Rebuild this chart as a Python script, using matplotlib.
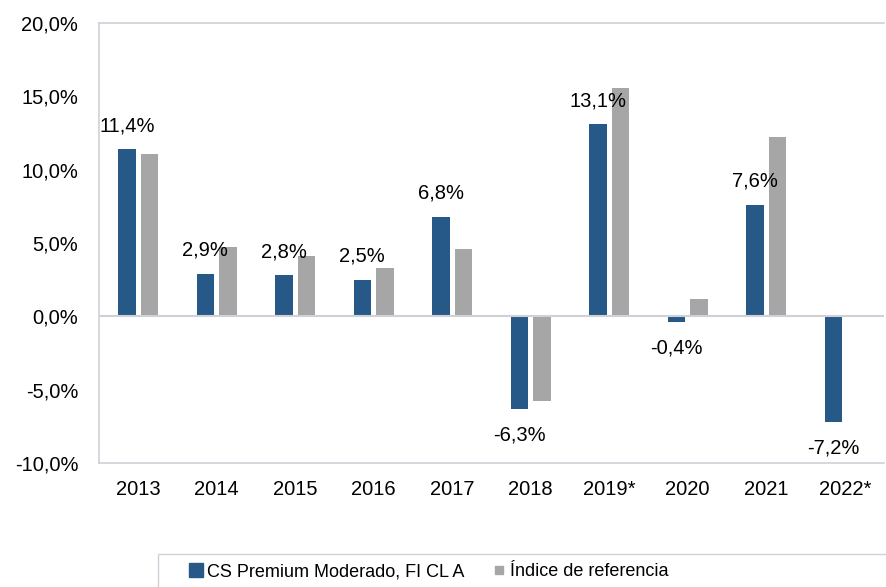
import numpy as np
import matplotlib.pyplot as plt
from matplotlib.lines import Line2D
from matplotlib.patches import Rectangle

plt.rcParams['font.family'] = ['Liberation Sans', 'DejaVu Sans']

years = ["2013", "2014", "2015", "2016", "2017", "2018", "2019*", "2020", "2021", "2022*"]
fund = [11.4, 2.9, 2.8, 2.5, 6.8, -6.3, 13.1, -0.4, 7.6, -7.2]
index_ref = [11.1, 4.7, 4.1, 3.3, 4.6, -5.8, 15.6, 1.2, 12.2, np.nan]

blue = "#265987"
grey = "#a6a6a6"
spine_col = "#d0d0d8"
fs = 14.5

W, H = 886, 587
fig = plt.figure(figsize=(W / 100, H / 100), dpi=100)
ax = fig.add_axes([99 / W, 1 - 463 / H, 785 / W, 440 / H])

x = np.arange(len(years))
w = 0.22
ax.bar(x - 0.145, fund, w, color=blue)
ax.bar(x + 0.145, index_ref, w, color=grey)

# data labels only for the fund
for xi, v in zip(x, fund):
    lbl = f"{v:.1f}%".replace(".", ",")
    if v >= 0:
        ax.annotate(lbl, (xi - 0.145, v), xytext=(0, 10), textcoords="offset points",
                    ha="center", va="bottom", fontsize=fs)
    else:
        ax.annotate(lbl, (xi - 0.145, v), xytext=(0, -12), textcoords="offset points",
                    ha="center", va="top", fontsize=fs)

ax.set_xlim(-0.5, len(years) - 0.5)
ax.set_ylim(-10, 20)
yt = np.arange(-10, 21, 5)
ax.set_yticks(yt)
ax.set_yticklabels([f"{t:.1f}%".replace(".", ",") for t in yt], fontsize=fs)
ax.set_xticks(x)
ax.set_xticklabels(years, fontsize=fs)
ax.tick_params(axis="x", length=0, pad=12)
ax.tick_params(axis="y", length=0, pad=15)

ax.axhline(0, color=spine_col, lw=1.5)
for s in ["left", "bottom", "top"]:
    ax.spines[s].set_color(spine_col)
    ax.spines[s].set_linewidth(1.2)
ax.spines["right"].set_visible(False)

# legend box runs off the bottom/right edge like the original
fig.patches.append(Rectangle((158 / W, -0.05), 1.0, 1 - 554 / H + 0.05,
                             transform=fig.transFigure, fill=False,
                             edgecolor=spine_col, lw=1.0))

handles = [Line2D([], [], marker="s", ls="", color=blue, markersize=9.5),
           Line2D([], [], marker="s", ls="", color=grey, markersize=5.5)]
fig.legend(handles, ["CS Premium Moderado, FI CL A", "Índice de referencia"],
           loc="center left", bbox_to_anchor=(189 / W, 1 - 572 / H), ncol=2,
           fontsize=13, frameon=False, handlelength=0.8, handletextpad=0.2,
           columnspacing=1.5, borderpad=0, borderaxespad=0)

fig.savefig("out.png", dpi=100)
